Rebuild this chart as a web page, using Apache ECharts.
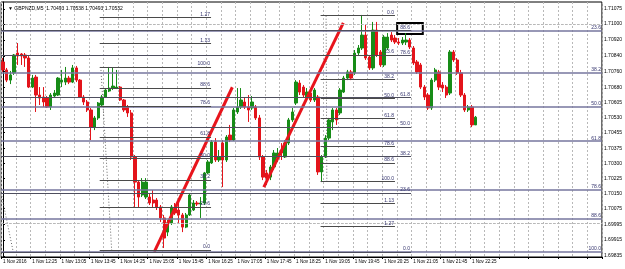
<!DOCTYPE html>
<html><head><meta charset="utf-8">
<script src="https://cdn.jsdelivr.net/npm/echarts@6/dist/echarts.min.js"></script>
<style>html,body{margin:0;padding:0;background:#fff}#c{width:625px;height:269px}</style>
</head><body><div id="c"></div>
<script>
const titleText = '\u25BC GBPNZD,M5  1.70493 1.70538 1.70493 1.70532';
const yTicks = [1.71075,1.71000,1.70920,1.70840,1.70760,1.70680,1.70605,1.70530,1.70455,1.70375,1.70300,1.70225,1.70150,1.70075,1.69995,1.69915,1.69835];
const xTickLabels = ['1 Nov 2016','1 Nov 12:25','1 Nov 13:05','1 Nov 13:45','1 Nov 14:25','1 Nov 15:05','1 Nov 15:45','1 Nov 16:25','1 Nov 17:05','1 Nov 17:45','1 Nov 18:25','1 Nov 19:05','1 Nov 19:45','1 Nov 20:25','1 Nov 21:05','1 Nov 21:45','1 Nov 22:25'];
const slotCount = 164;
const categories = Array.from({length: slotCount}, (_, i) => String(i));

const opens = [1.70809,1.70769,1.70718,1.70754,1.70854,1.70849,1.70844,1.70829,1.70683,1.70733,
1.70643,1.70633,1.70628,1.70583,1.70638,1.70643,1.70708,1.70708,1.70728,1.70708,
1.70779,1.70718,1.70633,1.70608,1.70568,1.70482,1.70528,1.70593,1.70633,1.70663,
1.70678,1.70678,1.70683,1.70618,1.70583,1.70553,1.70332,1.70206,1.70141,1.70131,
1.70131,1.70116,1.70116,1.70081,1.70026,1.69955,1.70001,1.70081,1.70066,1.70041,
1.69980,1.70041,1.70066,1.70101,1.70096,1.70101,1.70252,1.70302,1.70407,1.70317,
1.70402,1.70317,1.70442,1.70417,1.70558,1.70583,1.70608,1.70583,1.70578,1.70583,
1.70528,1.70332,1.70252,1.70231,1.70282,1.70327,1.70367,1.70332,1.70402,1.70518,
1.70603,1.70703,1.70683,1.70628,1.70653,1.70618,1.70633,1.70257,1.70332,1.70427,
1.70508,1.70568,1.70553,1.70658,1.70728,1.70759,1.70754,1.70854,1.70879,1.70944,
1.70834,1.70779,1.70969,1.70859,1.70794,1.70879,1.70944,1.70929,1.70909,1.70904,
1.70909,1.70919,1.70879,1.70809,1.70794,1.70683,1.70643,1.70578,1.70718,1.70759,
1.70693,1.70683,1.70653,1.70859,1.70819,1.70754,1.70643,1.70568,1.70583,1.70493];
const closes = [1.70769,1.70718,1.70744,1.70844,1.70839,1.70839,1.70829,1.70683,1.70728,1.70643,
1.70628,1.70608,1.70583,1.70643,1.70653,1.70728,1.70718,1.70728,1.70708,1.70779,
1.70718,1.70633,1.70608,1.70568,1.70482,1.70528,1.70603,1.70633,1.70668,1.70678,
1.70688,1.70683,1.70618,1.70568,1.70553,1.70332,1.70206,1.70131,1.70206,1.70206,
1.70101,1.70101,1.70081,1.70026,1.69925,1.70001,1.70081,1.70051,1.70041,1.69980,
1.70041,1.70141,1.70101,1.70096,1.70101,1.70252,1.70307,1.70407,1.70317,1.70332,
1.70317,1.70432,1.70417,1.70568,1.70583,1.70618,1.70583,1.70568,1.70608,1.70528,
1.70332,1.70231,1.70226,1.70282,1.70352,1.70352,1.70352,1.70402,1.70518,1.70558,
1.70708,1.70658,1.70643,1.70658,1.70618,1.70668,1.70257,1.70332,1.70427,1.70518,
1.70568,1.70518,1.70668,1.70728,1.70759,1.70728,1.70854,1.70879,1.70944,1.70829,
1.70779,1.70969,1.70844,1.70794,1.70934,1.70934,1.70919,1.70909,1.70904,1.70919,
1.70919,1.70884,1.70804,1.70759,1.70683,1.70633,1.70578,1.70718,1.70769,1.70683,
1.70678,1.70643,1.70859,1.70819,1.70754,1.70643,1.70568,1.70583,1.70493,1.70532];
const lows = [1.70759,1.70708,1.70698,1.70744,1.70794,1.70794,1.70784,1.70678,1.70678,1.70558,
1.70593,1.70583,1.70578,1.70568,1.70628,1.70638,1.70683,1.70693,1.70698,1.70703,
1.70708,1.70628,1.70593,1.70558,1.70417,1.70467,1.70518,1.70588,1.70628,1.70658,
1.70668,1.70673,1.70613,1.70558,1.70533,1.70317,1.70081,1.70076,1.70131,1.70121,
1.70091,1.70081,1.70066,1.70006,1.69875,1.69935,1.69991,1.70041,1.70001,1.69955,
1.69975,1.70036,1.70061,1.70086,1.70026,1.70091,1.70247,1.70297,1.70307,1.70307,
1.70181,1.70307,1.70407,1.70412,1.70548,1.70573,1.70573,1.70508,1.70568,1.70518,
1.70317,1.70216,1.70191,1.70216,1.70267,1.70307,1.70317,1.70327,1.70392,1.70508,
1.70593,1.70643,1.70633,1.70618,1.70608,1.70608,1.70242,1.70206,1.70327,1.70417,
1.70467,1.70493,1.70543,1.70653,1.70718,1.70718,1.70744,1.70844,1.70869,1.70819,
1.70769,1.70769,1.70834,1.70784,1.70784,1.70869,1.70909,1.70899,1.70894,1.70894,
1.70894,1.70874,1.70794,1.70749,1.70673,1.70618,1.70568,1.70568,1.70708,1.70668,
1.70658,1.70628,1.70643,1.70809,1.70744,1.70633,1.70558,1.70558,1.70482,1.70493];
const highs = [1.70829,1.70779,1.70764,1.70849,1.70904,1.70854,1.70854,1.70839,1.70744,1.70744,
1.70683,1.70683,1.70638,1.70653,1.70668,1.70733,1.70769,1.70784,1.70739,1.70794,
1.70789,1.70723,1.70643,1.70618,1.70578,1.70538,1.70608,1.70643,1.70678,1.70784,
1.70779,1.70769,1.70688,1.70623,1.70593,1.70568,1.70342,1.70216,1.70226,1.70226,
1.70146,1.70166,1.70126,1.70091,1.70041,1.70016,1.70091,1.70101,1.70101,1.70051,
1.70051,1.70151,1.70116,1.70111,1.70131,1.70257,1.70317,1.70417,1.70427,1.70367,
1.70417,1.70442,1.70493,1.70578,1.70678,1.70678,1.70633,1.70643,1.70638,1.70593,
1.70543,1.70342,1.70267,1.70292,1.70367,1.70377,1.70402,1.70417,1.70528,1.70578,
1.70718,1.70718,1.70693,1.70678,1.70668,1.70678,1.70643,1.70342,1.70442,1.70528,
1.70578,1.70578,1.70678,1.70739,1.70769,1.70769,1.70869,1.70894,1.71045,1.70995,
1.70844,1.71010,1.71010,1.70869,1.70944,1.70954,1.70959,1.70944,1.70929,1.70934,
1.70954,1.70929,1.70889,1.70819,1.70804,1.70693,1.70653,1.70728,1.70779,1.70769,
1.70708,1.70693,1.70869,1.70869,1.70829,1.70769,1.70653,1.70593,1.70593,1.70538];

const currentPrice = 1.70532;

// Fibonacci objects: price at 0%, price at 100%, start/end bar position, shown levels
const fiboRatios = [0, 23.6, 38.2, 50, 61.8, 78.6, 88.6, 100, 113, 127];
const fiboTexts = ['0.0','23.6','38.2','50.0','61.8','78.6','88.6','100.0','1.13','1.27'];
const fiboA = {p0: 1.71311, p100: 1.69855, x0: -0.5, x1: 163.5, show: [1,2,3,4,5,6,7], color: '#76769e', width: 1.5};
const fiboD = {p0: 1.69856, p100: 1.71111, x0: -0.5, x1: 111.4, show: [0,1,2,3,4,5,6], color: '#4e4e5e', width: 1};
const fiboB = {p0: 1.69865, p100: 1.70784, x0: 26.4, x1: 56.8, show: [0,1,2,3,4,5,6,7,8,9], color: '#4a4a4a', width: 1};
const fiboC = {p0: 1.71041, p100: 1.70208, x0: 86.7, x1: 107.0, show: [0,1,2,3,4,5,6,7,8,9], color: '#4a4a4a', width: 1};

// trend lines [bar position, price]
const trend1 = [[41.3, 1.69856], [62.6, 1.70682]];
const trend2 = [[71.2, 1.70181], [92.9, 1.71005]];
// fibo connecting (dotted) lines
const diagB = [[26.7, 1.70784], [29.7, 1.69855]];
const diagC = [[88.2, 1.71041], [88.4, 1.70208]];
const diagD = [[-0.5, 1.70151], [2.8, 1.69855]];
// rectangle object around a label
const boxRect = [[107.6, 1.71005], [114.6, 1.70949]];

const FONT = 'Liberation Sans, Arial, sans-serif';

function fiboSeries(f) {
  const data = f.show.map(k => {
    const p = f.p0 + (f.p100 - f.p0) * fiboRatios[k] / 100;
    return [
      {coord: [f.x0, p], label: {formatter: fiboTexts[k]}},
      {coord: [f.x1, p]}
    ];
  });
  return {
    type: 'line', xAxisIndex: 1, yAxisIndex: 0, data: [], z: 2, silent: true,
    markLine: {
      silent: true, symbol: ['none','none'], animation: false,
      lineStyle: {color: f.color, width: f.width, type: 'solid'},
      label: {show: true, position: 'insideEndTop', distance: [1, 0.5], color: '#34346e', fontSize: 5, fontFamily: FONT},
      emphasis: {disabled: true},
      data: data
    }
  };
}
function lineSeries(pts, color, width, type, z) {
  return {type: 'line', xAxisIndex: 1, yAxisIndex: 0, data: pts, symbol: 'none', silent: true, z: z,
    lineStyle: {color: color, width: width, type: type}, animation: false};
}

const chart = echarts.init(document.getElementById('c'), null, {renderer: 'canvas'});
chart.setOption({
  animation: false,
  backgroundColor: '#fff',
  title: {text: titleText, left: 3, top: 1, textStyle: {fontSize: 5, fontWeight: 'normal', color: '#000', fontFamily: FONT}},
  grid: {left: 1, right: 20, top: 2, bottom: 12, show: true, borderColor: '#000', borderWidth: 1, backgroundColor: '#fff'},
  xAxis: [{
    type: 'category', data: categories, boundaryGap: true,
    axisLine: {show: true, lineStyle: {color: '#000', width: 1}},
    axisTick: {show: true, interval: 7, length: 2, lineStyle: {color: '#000'}},
    axisLabel: {interval: 7, align: 'left', fontSize: 4.6, color: '#000', margin: 2, fontFamily: FONT,
      formatter: (v, idx) => (idx % 8 === 0 && idx / 8 < xTickLabels.length) ? xTickLabels[idx / 8] : ''},
    splitLine: {show: true, interval: 3, lineStyle: {color: '#b8b8b8', type: [2, 2], width: 1}}
  }, {
    type: 'value', min: -0.5, max: slotCount - 0.5, show: false
  }],
  yAxis: [{
    type: 'value', position: 'right', min: 1.69830, max: 1.71110, scale: true,
    axisLine: {show: true, lineStyle: {color: '#000'}},
    axisTick: {show: true, length: 2, customValues: yTicks, lineStyle: {color: '#000'}},
    axisLabel: {customValues: yTicks, formatter: v => v.toFixed(5), fontSize: 5, color: '#000', margin: 2, fontFamily: FONT},
    splitLine: {show: false}
  }],
  series: [
    {
      type: 'line', xAxisIndex: 1, yAxisIndex: 0, data: [], z: 1, silent: true,
      markLine: {silent: true, symbol: ['none','none'], animation: false, label: {show: false},
        lineStyle: {color: '#b8b8b8', type: [2, 2], width: 1}, emphasis: {disabled: true},
        data: yTicks.map(v => ({yAxis: v}))}
    },
    fiboSeries(fiboA), fiboSeries(fiboD), fiboSeries(fiboB), fiboSeries(fiboC),
    lineSeries(diagB, '#6a6a6a', 1, [1, 2], 2),
    lineSeries(diagC, '#6a6a6a', 1, [1, 2], 2),
    lineSeries(diagD, '#6a6a6a', 1, [1, 2], 2),
    {
      type: 'candlestick', xAxisIndex: 0, yAxisIndex: 0, z: 3, silent: true, barWidth: 2.8,
      data: opens.map((o, i) => [o, closes[i], lows[i], highs[i]]),
      itemStyle: {color: '#178c17', color0: '#e3141b', borderColor: '#178c17', borderColor0: '#e3141b', borderWidth: 1},
      markLine: {silent: true, symbol: ['none','none'], animation: false,
        lineStyle: {opacity: 0},
        label: {show: true, position: 'end', distance: 1, formatter: currentPrice.toFixed(5), color: '#fff',
          backgroundColor: '#000', padding: [1.5, 1.5, 1, 1.5], fontSize: 5, fontFamily: FONT},
        emphasis: {disabled: true},
        data: [{yAxis: currentPrice}]}
    },
    lineSeries(trend1, '#e8141c', 3, 'solid', 4),
    lineSeries(trend2, '#e8141c', 3, 'solid', 4),
    {
      type: 'line', xAxisIndex: 1, yAxisIndex: 0, data: [], z: 5, silent: true,
      markArea: {silent: true, itemStyle: {color: 'rgba(255,255,255,0)', borderColor: '#000', borderWidth: 2},
        emphasis: {disabled: true},
        data: [[{coord: boxRect[0]}, {coord: boxRect[1]}]]}
    }
  ]
});
</script></body></html>
